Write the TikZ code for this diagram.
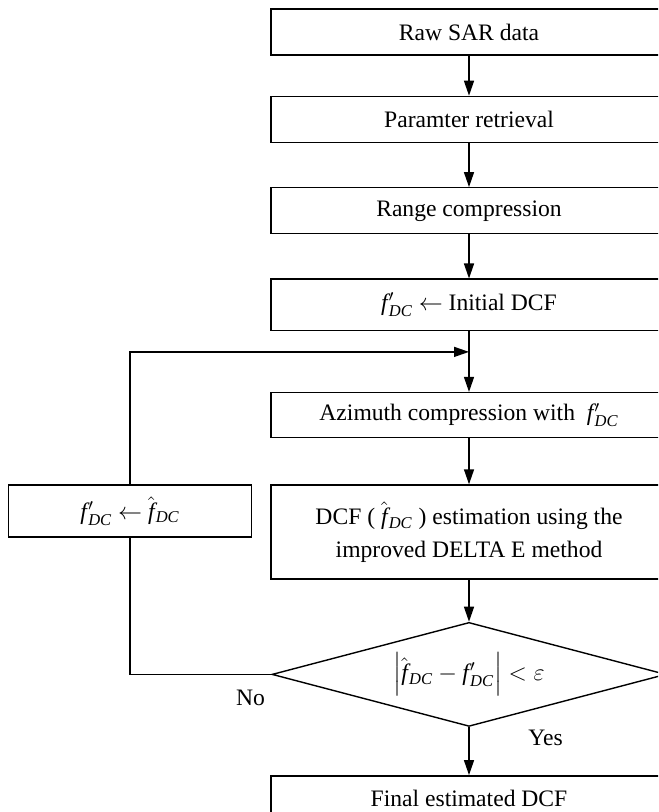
\documentclass[tikz,border=0pt]{standalone}
\usepackage{amsmath}
\usepackage{fontspec}
\setmainfont{Liberation Serif}
\usetikzlibrary{shapes.geometric, arrows.meta, positioning, calc}
\newcommand{\fdcp}{\ensuremath{\textit{f}\kern0.6pt^{\prime}_{\textit{DC}}}}
\newcommand{\fdch}{\ensuremath{\hat{\textit{f}}\kern0.6pt_{\textit{DC}}}}
\tikzset{
  process/.style = {rectangle, draw=black, line width=0.7pt,
    minimum width=198pt, minimum height=23pt, inner sep=0pt,
    align=center, font=\fontsize{11.8}{16.5}\selectfont},
  update/.style = {process, minimum width=121.5pt, minimum height=26pt},
  decision/.style = {diamond, aspect=3.8, draw=black, line width=0.7pt,
    minimum width=197pt, minimum height=52pt, inner sep=0pt,
    font=\fontsize{11.8}{14}\selectfont},
  lbl/.style = {inner sep=0pt, font=\fontsize{11.8}{14}\selectfont},
  ok/.style = {-{Triangle[length=7.5pt, width=5pt]}, line width=0.7pt},
  okLine/.style = {line width=0.7pt},
}

\begin{document}
\begin{tikzpicture}[x=0.5pt, y=-0.5pt, node distance=22pt]
\useasboundingbox (0,0) rectangle (658,812);
\clip (0,0) rectangle (658,812);

\node[process] (n1) at (469,32) {Raw SAR data};
\node[process, below=20pt of n1] (n2) {Paramter retrieval};
\node[process, below=of n2] (n3) {Range compression};
\node[process, minimum height=25.5pt, below=of n3] (n4) {\fdcp{} $\leftarrow$ Initial DCF};
\node[process, minimum height=22.5pt, below=30.5pt of n4] (n5) {Azimuth compression with~ \fdcp};
\node[process, minimum height=47pt, below=23pt of n5] (n6) {DCF ( \fdch{} ) estimation using the\\improved DELTA E method};
\node[decision, below=21pt of n6] (n7) {$\left|\fdch - \fdcp\right| < \varepsilon$};
\node[process, below=24pt of n7] (n8) {Final estimated DCF};
\node[update, anchor=north east] (n9) at ([xshift=-9pt]n6.north west) {\fdcp{} $\leftarrow$ \fdch};
\coordinate[below=10.5pt of n4] (j1);

\node[lbl, anchor=north east] (no) at ([xshift=-3pt, yshift=-7.5pt]n7.west) {No};
\node[lbl, anchor=north west] (yes) at ([xshift=29.5pt, yshift=-1.5pt]n7.south) {Yes};

\draw[ok] (n1) -- (n2);
\draw[ok] (n2) -- (n3);
\draw[ok] (n3) -- (n4);
\draw[ok] (n4) -- (n5);
\draw[ok] (n5) -- (n6);
\draw[ok] (n6) -- (n7);
\draw[ok] (n7) -- (n8);
\draw[okLine] (n7.west) -| (n9.south);
\draw[ok] (n9.north) |- (j1);

\end{tikzpicture}
\end{document}
